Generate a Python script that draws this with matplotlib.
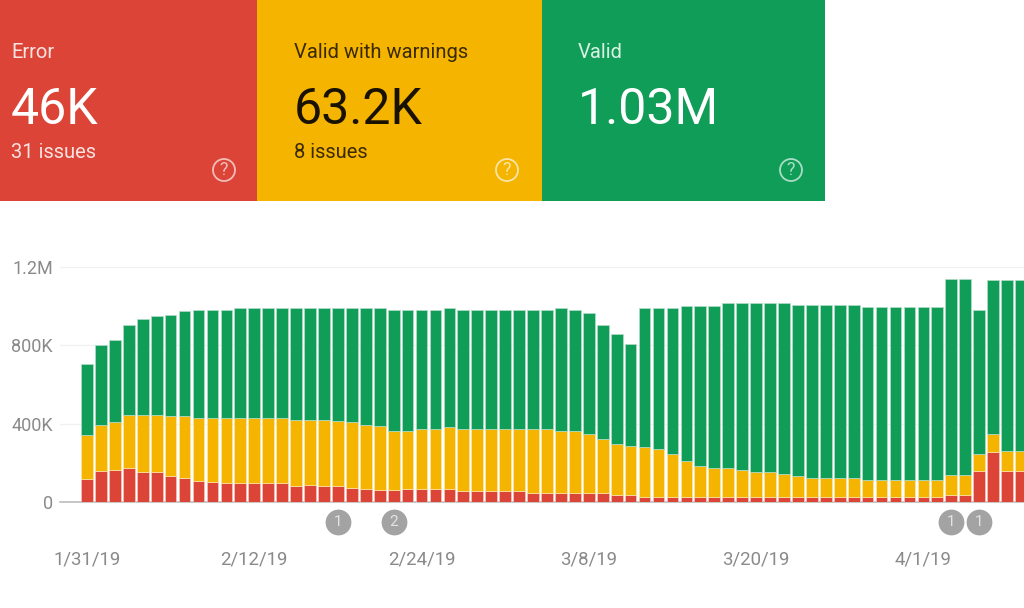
import numpy as np
import matplotlib
matplotlib.use('Agg')
import matplotlib.pylab as plt
from matplotlib.patches import Circle, Rectangle

plt.rcParams['font.family'] = ['Roboto', 'DejaVu Sans']

# values in thousands (tops of each stacked segment)
error = [117, 157, 162, 174, 151, 155, 134, 121, 107, 100, 97, 97, 97, 97, 97, 83, 87, 80, 80, 71, 68, 63, 63,
         68, 68, 68, 68, 54, 54, 54, 54, 54, 46, 46, 46, 46, 46, 46, 37, 37, 26, 26, 26, 26, 26, 26,
         26, 26, 26, 26, 26, 26, 26, 26, 26, 26, 26, 26, 26, 26, 26, 26, 37, 37, 157, 255, 157, 157]
warning_top = [344, 395, 407, 446, 446, 446, 437, 437, 429, 429, 429, 429, 429, 429, 429, 420, 417, 417, 412, 407, 395, 386, 361,
               361, 373, 373, 381, 373, 373, 373, 373, 373, 373, 373, 361, 361, 349, 322, 298, 284, 281, 272, 247, 208, 186, 174,
               174, 162, 151, 151, 141, 131, 124, 124, 124, 124, 114, 114, 114, 111, 111, 111, 140, 140, 247, 349, 259, 259]
total = [705, 803, 829, 905, 936, 948, 956, 973, 979, 979, 979, 989, 989, 989, 989, 989, 989, 989, 989, 989, 989, 989, 979,
         979, 979, 979, 989, 979, 979, 979, 979, 979, 979, 979, 989, 979, 965, 905, 860, 807, 992, 992, 992, 1002, 1002, 1002,
         1016, 1016, 1016, 1016, 1016, 1006, 1006, 1006, 1006, 1006, 996, 996, 996, 996, 996, 996, 1139, 1139, 979, 1135, 1135, 1135]

date_ticks = [0, 12, 24, 36, 48, 60]
date_labels = ['1/31/19', '2/12/19', '2/24/19', '3/8/19', '3/20/19', '4/1/19']
y_ticks = [0, 400, 800, 1200]
y_labels = ['0', '400K', '800K', '1.2M']
badge_days = [18, 22, 62, 64]
badge_labels = ['1', '2', '1', '1']

card_titles = ['Error', 'Valid with warnings', 'Valid']
card_values = ['46K', '63.2K', '1.03M']
card_issues = ['31 issues', '8 issues', '']
card_edges = [0, 257, 542, 825]

RED = '#DB4437'
YELLOW = '#F4B400'
GREEN = '#0F9D58'
GREY = '#8a8a8a'

days = np.arange(len(total))
error = np.array(error)
warning_top = np.array(warning_top)
total = np.array(total)

f = plt.figure(figsize=(10.24, 6.08), dpi=100)

# -----------------------------------------------------------------------------
# stacked bars
ax = f.add_axes([60 / 1024, (608 - 502) / 608, 964 / 1024, 235 / 608])
ax.set_xlim(-1.935, 67.22)
ax.set_ylim(0, 1200)
ax.bar(days, error, width=0.84, color=RED, edgecolor='#f3c4bf', linewidth=0.5, zorder=3)
ax.bar(days, warning_top - error, bottom=error, width=0.84, color=YELLOW,
       edgecolor='#fbe6ad', linewidth=0.5, zorder=3)
ax.bar(days, total - warning_top, bottom=warning_top, width=0.84, color=GREEN,
       edgecolor='#b5dcc8', linewidth=0.5, zorder=3)

for side in ['top', 'right', 'left']:
    ax.spines[side].set_visible(False)
ax.spines['bottom'].set_color('#bdbdbd')
ax.spines['bottom'].set_linewidth(1.2)
ax.grid(axis='y', color='#f1f1f1', linewidth=1, zorder=0)
ax.set_axisbelow(True)
ax.set_yticks(y_ticks)
ax.set_yticklabels(y_labels, fontsize=13, color=GREY)
ax.set_xticks(date_ticks)
ax.set_xticklabels(date_labels, fontsize=13.4, color=GREY)
ax.tick_params(axis='y', length=0, pad=5)
ax.tick_params(axis='x', length=0, pad=35)

# annotation badges below the axis
badge_y = -102
ax.scatter(badge_days, [badge_y] * len(badge_days), s=345, color='#a3a3a3',
           linewidths=0, clip_on=False, zorder=4)
for day, label in zip(badge_days, badge_labels):
    ax.text(day, badge_y, label, color='#e4e4e4', fontsize=11, ha='center',
            va='center', clip_on=False, zorder=5)

# -----------------------------------------------------------------------------
# status cards, drawn in pixel coordinates
top = f.add_axes([0, 0, 1, 1], zorder=5)
top.set_xlim(0, 1024)
top.set_ylim(608, 0)
top.axis('off')
top.patch.set_alpha(0)

card_colors = [RED, YELLOW, GREEN]
text_colors = ['white', '#1a1200', 'white']
text_x = [11, 294, 578]
icon_x = [224, 507, 791]
for i in range(3):
    top.add_patch(Rectangle((card_edges[i], 0), card_edges[i + 1] - card_edges[i], 201,
                            facecolor=card_colors[i], edgecolor='none'))
    alpha = 0.85
    top.text(text_x[i], 52, card_titles[i], color=text_colors[i], alpha=alpha,
             fontsize=14.5, va='center', ha='left')
    top.text(text_x[i], 110, card_values[i], color=text_colors[i], fontsize=36,
             va='center', ha='left')
    if card_issues[i]:
        top.text(text_x[i], 152, card_issues[i], color=text_colors[i], alpha=alpha,
                 fontsize=14.5, va='center', ha='left')
    top.add_patch(Circle((icon_x[i], 170), 11, facecolor='none',
                         edgecolor='white', alpha=0.65, linewidth=1.3))
    top.text(icon_x[i], 170, '?', color='white', alpha=0.65, fontsize=13,
             ha='center', va='center')

plt.savefig('out.png', dpi=100)
plt.close()
